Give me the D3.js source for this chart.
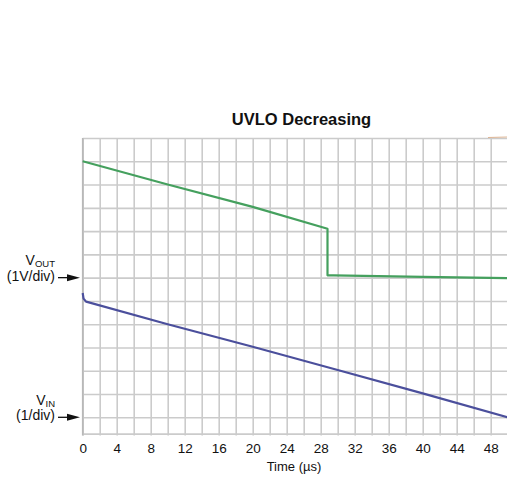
<!DOCTYPE html>
<html>
<head>
<meta charset="utf-8">
<script src="https://cdn.jsdelivr.net/npm/d3@7"></script>
<style>
  html, body { margin: 0; padding: 0; background: #ffffff; }
  svg { display: block; }
  text { font-family: "Liberation Sans", Arial, sans-serif; }
</style>
</head>
<body>
<svg id="chart" width="507" height="480"></svg>
<script>
// ---- data ----
const title = "UVLO Decreasing";
const xLabel = "Time (\u00b5s)";
const timeTicks = [0, 4, 8, 12, 16, 20, 24, 28, 32, 36, 40, 44, 48];
const gridTimes = d3.range(0, 51, 2);      // 2 µs per division
const gridDivs = d3.range(0, 13, 1);       // 12 vertical divisions

// VOUT (1V/div), reference level at division 6
const voutRef = 6;
const voutTime = [0, 10, 20, 28.8, 28.8, 29.5, 40, 50];
const voutVolts = [5.0, 4.0, 3.04, 2.1, 0.1, 0.1, 0.03, -0.02];

// VIN (1V/div), reference level at division 0
const vinRef = 0;
const vinTime = [0, 0.1, 0.4, 10, 20, 30, 40, 50];
const vinVolts = [5.34, 5.1, 4.97, 4.0, 3.03, 2.03, 1.03, 0.0];

// ---- drawing ----
const svg = d3.select("#chart");
const x = d3.scaleLinear().domain([0, 50]).range([82.7, 507.7]);
const y = d3.scaleLinear().domain([-0.7, 12]).range([433.6, 138]);
const plotTop = y(12), plotBottom = y(-0.7);

// grid
const gridColor = "#cbcbcb";
const gx = svg.append("g").attr("transform", `translate(0,${plotBottom})`)
  .call(d3.axisBottom(x).tickValues(gridTimes).tickSize(-(plotBottom - plotTop)).tickSizeOuter(0).tickFormat(""));
gx.select(".domain").remove();
gx.selectAll("line").attr("stroke", gridColor).attr("stroke-width", 1.6).attr("y1", 2);

const gy = svg.append("g").attr("transform", `translate(${x(0)},0)`)
  .call(d3.axisLeft(y).tickValues(gridDivs.concat([-0.7])).tickSize(-(x(50) - x(0))).tickSizeOuter(0).tickFormat(""));
gy.select(".domain").remove();
gy.selectAll("line").attr("stroke", gridColor).attr("stroke-width", 1.6);

// left border slightly darker
svg.append("line").attr("x1", x(0)).attr("x2", x(0)).attr("y1", plotTop).attr("y2", plotBottom + 2)
  .attr("stroke", "#b8b8b8").attr("stroke-width", 1.6);

// faint artifact at top-right
svg.append("line").attr("x1", 488).attr("x2", 507).attr("y1", plotTop - 0.5).attr("y2", plotTop - 1)
  .attr("stroke", "#d9a77f").attr("stroke-width", 1.2).attr("opacity", 0.8);

// tick labels
const ax = svg.append("g").attr("transform", `translate(0,${plotBottom})`)
  .call(d3.axisBottom(x).tickValues(timeTicks).tickSize(0).tickPadding(10).tickFormat(d3.format("d")));
ax.select(".domain").remove();
ax.selectAll("text").attr("font-size", 13.5).attr("fill", "#111")
  .attr("font-family", "'Liberation Sans', Arial, sans-serif");

svg.append("text").attr("x", 294).attr("y", 471).attr("text-anchor", "middle")
  .attr("font-size", 13).attr("fill", "#111").text(xLabel);

svg.append("text").attr("x", 301.5).attr("y", 124.5).attr("text-anchor", "middle")
  .attr("font-size", 16.5).attr("font-weight", "bold").attr("fill", "#111").text(title);

// traces
const line = d3.line().x(d => x(d[0])).y(d => y(d[1]));
const voutPts = voutTime.map((t, i) => [t, voutVolts[i] + voutRef]);
const vinPts = vinTime.map((t, i) => [t, vinVolts[i] + vinRef]);

svg.append("path").datum(voutPts).attr("d", line).attr("fill", "none")
  .attr("stroke", "#45a05e").attr("stroke-width", 2.2).attr("stroke-linejoin", "round");
svg.append("path").datum(vinPts).attr("d", line).attr("fill", "none")
  .attr("stroke", "#4b4f9c").attr("stroke-width", 2.2).attr("stroke-linejoin", "round");

// channel labels with arrows
function channelLabel(refDiv, sub, scaleText) {
  const yy = y(refDiv);
  const g = svg.append("g");
  const t1 = g.append("text").attr("x", 55).attr("y", yy - 12.5).attr("text-anchor", "end")
    .attr("font-size", 14).attr("fill", "#111");
  t1.append("tspan").text("V");
  t1.append("tspan").attr("font-size", 9.5).attr("dy", 2).text(sub);
  g.append("text").attr("x", 55).attr("y", yy + 3).attr("text-anchor", "end")
    .attr("font-size", 14).attr("fill", "#111").text(scaleText);
  g.append("line").attr("x1", 58).attr("x2", 69).attr("y1", yy).attr("y2", yy)
    .attr("stroke", "#111").attr("stroke-width", 1.3);
  g.append("path").attr("d", `M67,${yy - 3.5} L80,${yy} L67,${yy + 3.5} Z`).attr("fill", "#111");
}
channelLabel(voutRef, "OUT", "(1V/div)");
channelLabel(vinRef, "IN", "(1/div)");
</script>
</body>
</html>
